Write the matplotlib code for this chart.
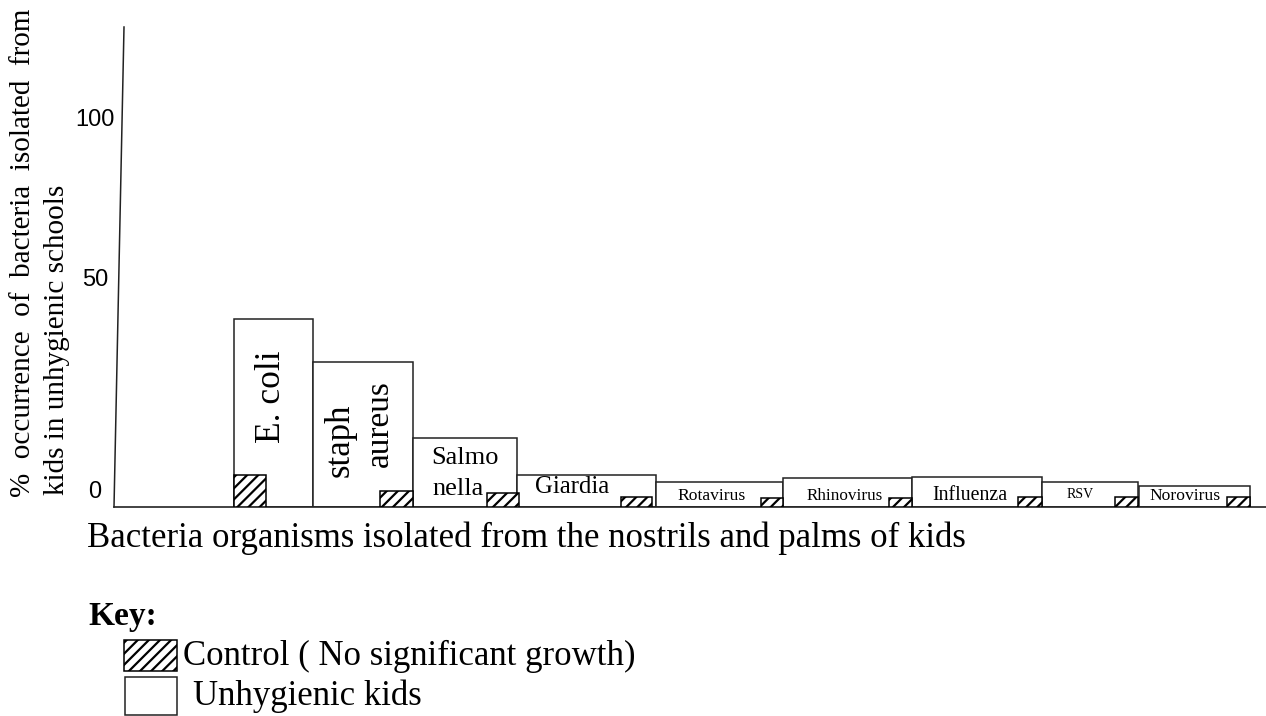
#!/usr/bin/env python3
"""Bar chart: bacteria isolated from nostrils and palms of kids (control vs unhygienic)."""

import matplotlib

matplotlib.use("Agg")
import matplotlib.pyplot as plt
from matplotlib.patches import Rectangle

# ---- data ----
organisms = ["E. coli", "staph aureus", "Salmonella", "Giardia", "Rotavirus",
             "Rhinovirus", "Influenza", "RSV", "Norovirus"]
unhygienic = [40.9, 31.5, 15.0, 7.0, 5.4, 6.3, 6.5, 5.4, 4.6]
control = [7.0, 3.5, 3.0, 2.2, 2.0, 2.0, 2.2, 2.2, 2.2]
tick_labels = ["0", "50", "100"]
tick_values = [3.7, 50, 84.6]

# ---- layout (pixel columns of the hand-drawn bars) ----
W, H = 1266, 716
BASE, TOP, LEFT = 507, 27, 114
PX = 4.6  # pixels per unit
bar_left = [234, 313, 413, 517, 656, 783, 912, 1042, 1139]
bar_right = [313, 413, 517, 656, 783, 912, 1042, 1138, 1250]
ctl_left = [234, 380, 487, 621, 761, 889, 1018, 1115, 1227]
ctl_right = [266, 413, 519, 652, 783, 912, 1042, 1138, 1250]

# bar label placement: (text, x px, y px, size, rotation)
bar_text = [
    ("E. coli", 271, 397, 25.5, 90),
    ("staph", 340, 440, 25, 90),
    ("aureus", 380, 424, 24, 90),
    ("Salmo", 465, 458, 19, 0),
    ("nella", 458, 489, 19, 0),
    ("Giardia", 572, 487, 17.8, 0),
    ("Rotavirus", 712, 496, 12.6, 0),
    ("Rhinovirus", 845, 496, 12.3, 0),
    ("Influenza", 970, 495, 14.3, 0),
    ("RSV", 1080, 495, 10, 0),
    ("Norovirus", 1185, 496, 12.6, 0),
]

SERIF = "Liberation Serif"
LINE = "#222222"
plt.rcParams["hatch.linewidth"] = 1.6
plt.rcParams["hatch.color"] = "black"


def ypx(py):
    return (BASE - py) / PX


def fx(px):
    return px / W


def fy(py):
    return (H - py) / H


fig = plt.figure(figsize=(W / 100, H / 100), dpi=100)
ax = fig.add_axes([fx(LEFT), fy(BASE), (W - LEFT) / W, (BASE - TOP) / H])
ax.set_xlim(LEFT, W)
ax.set_ylim(0, (BASE - TOP) / PX)

widths = [r - l for l, r in zip(bar_left, bar_right)]
ax.bar(bar_left, unhygienic, width=widths, align="edge", facecolor="white",
       edgecolor=LINE, linewidth=1.1, zorder=2)
cwidths = [r - l for l, r in zip(ctl_left, ctl_right)]
ax.bar(ctl_left, control, width=cwidths, align="edge", facecolor="white",
       edgecolor="black", linewidth=1.1, hatch="///", zorder=3)

for s, x, y, size, rot in bar_text:
    ax.text(x, ypx(y), s, fontsize=size, family=SERIF, rotation=rot,
            ha="center", va="center", zorder=4)

# slanted hand-drawn y axis
ax.plot([124, LEFT], [ypx(TOP), 0], color=LINE, lw=1.1, clip_on=False, zorder=5)
for side in ["top", "right", "left"]:
    ax.spines[side].set_visible(False)
ax.spines["bottom"].set_linewidth(1.2)
ax.spines["bottom"].set_color(LINE)
ax.set_xticks([])
ax.set_yticks(tick_values, tick_labels)
ax.tick_params(axis="y", length=0, pad=13.7, labelsize=17)
for lab in ax.get_yticklabels():
    lab.set_family("Liberation Sans")
    lab.set_horizontalalignment("center")

# axis titles
fig.text(fx(23), fy(497), "%  occurrence  of  bacteria  isolated  from", rotation=90,
         ha="center", va="bottom", fontsize=21, family=SERIF)
fig.text(fx(57), fy(495), "kids in unhygienic schools", rotation=90,
         ha="center", va="bottom", fontsize=21, family=SERIF)
fig.text(fx(87), fy(547), "Bacteria organisms isolated from the nostrils and palms of kids",
         ha="left", va="baseline", fontsize=25, family=SERIF)

# key
fig.text(fx(88), fy(625), "Key:", ha="left", va="baseline", fontsize=24,
         family=SERIF, weight="bold")
fig.patches.append(Rectangle((fx(124), fy(671)), fx(177) - fx(124), fy(640) - fy(671),
                             transform=fig.transFigure, facecolor="white",
                             edgecolor="black", lw=1.1, hatch="///"))
fig.patches.append(Rectangle((fx(125), fy(715)), fx(177) - fx(125), fy(677) - fy(715),
                             transform=fig.transFigure, facecolor="white",
                             edgecolor=LINE, lw=1.1))
fig.text(fx(183), fy(665), "Control ( No significant growth)", ha="left", va="baseline",
         fontsize=25, family=SERIF)
fig.text(fx(193), fy(705), "Unhygienic kids", ha="left", va="baseline",
         fontsize=25, family=SERIF)

fig.savefig("out.png", dpi=100)
plt.close(fig)
